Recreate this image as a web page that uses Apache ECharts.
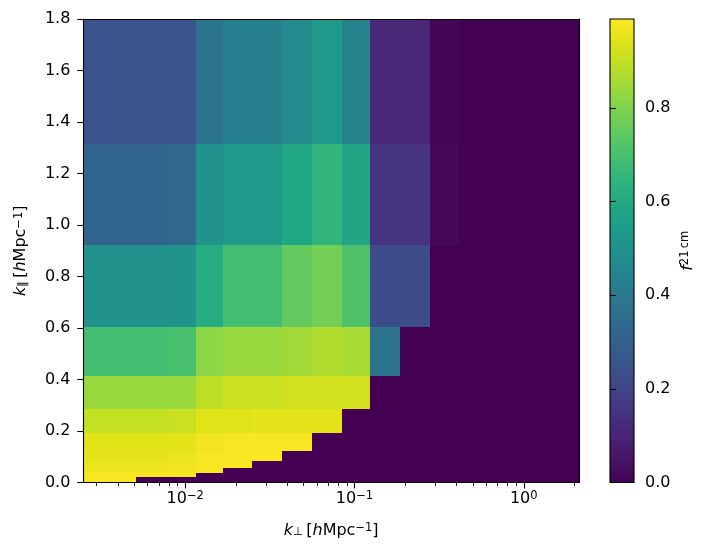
<!DOCTYPE html>
<html>
<head>
<meta charset="utf-8">
<script src="https://cdn.jsdelivr.net/npm/echarts@6/dist/echarts.min.js"></script>
<style>html,body{margin:0;padding:0;background:#fff}#c{width:710px;height:554px}</style>
</head>
<body>
<div id="c"></div>
<script>
// ---- data ----
const kperpEdges = [0.0025, 0.0051, 0.0080, 0.0115, 0.0167, 0.0248, 0.0371, 0.0561, 0.0839, 0.1237, 0.1866, 0.280, 0.416, 0.63, 0.95, 1.42, 2.12];
const kparEdges = [0, 0.02, 0.037, 0.056, 0.085, 0.124, 0.191, 0.284, 0.414, 0.605, 0.923, 1.315, 1.8];
// f21cm, one row per k_par bin (bottom to top), one value per k_perp bin
const row0  = [0.98,0,0,0,0,0,0,0,0,0,0,0,0,0,0,0];
const row1  = [0.98,0.98,0.98,0,0,0,0,0,0,0,0,0,0,0,0,0];
const row2  = [0.97,0.97,0.97,0.99,0,0,0,0,0,0,0,0,0,0,0,0];
const row3  = [0.96,0.96,0.97,0.98,0.99,0,0,0,0,0,0,0,0,0,0,0];
const row4  = [0.95,0.95,0.96,0.98,0.98,0.99,0,0,0,0,0,0,0,0,0,0];
const row5  = [0.94,0.94,0.95,0.97,0.98,0.98,0.98,0,0,0,0,0,0,0,0,0];
const row6  = [0.90,0.90,0.91,0.94,0.94,0.95,0.95,0.95,0,0,0,0,0,0,0,0];
const row7  = [0.84,0.84,0.84,0.89,0.91,0.91,0.92,0.92,0.92,0,0,0,0,0,0,0];
const row8  = [0.69,0.69,0.70,0.82,0.84,0.84,0.85,0.87,0.86,0.38,0,0,0,0,0,0];
const row9  = [0.50,0.50,0.51,0.61,0.69,0.69,0.75,0.78,0.71,0.23,0.23,0,0,0,0,0];
const row10 = [0.32,0.32,0.33,0.50,0.53,0.53,0.59,0.65,0.58,0.15,0.15,0.02,0,0,0,0];
const row11 = [0.25,0.25,0.25,0.375,0.43,0.43,0.47,0.53,0.44,0.11,0.11,0.015,0,0,0,0];
const f21cm = [row0,row1,row2,row3,row4,row5,row6,row7,row8,row9,row10,row11];
const colorMin = 0, colorMax = 0.99;
const xMajorTicks = [0.01, 0.1, 1];
const xMinorTicks = [0.003,0.004,0.005,0.006,0.007,0.008,0.009,0.02,0.03,0.04,0.05,0.06,0.07,0.08,0.09,0.2,0.3,0.4,0.5,0.6,0.7,0.8,0.9,2];
const cbarTicks = [0, 0.2, 0.4, 0.6, 0.8];

const viridis = ['#440154','#471365','#482475','#463480','#414487','#3b528b','#355f8d','#2f6c8e','#2a788e','#25848e','#21918c','#1e9c89','#22a884','#2fb47c','#44bf70','#5ec962','#7ad151','#9bd93c','#bddf26','#dfe318','#fde725'];

const cells = [];
for (let i = 0; i < f21cm.length; i++) {
  for (let j = 0; j < f21cm[i].length; j++) {
    cells.push([kperpEdges[j], kperpEdges[j+1], kparEdges[i], kparEdges[i+1], f21cm[i][j]]);
  }
}

const FONT = 'DejaVu Sans';
const FS = 16;
const mathRich = {
  i: {fontFamily: FONT, fontStyle: 'italic', fontSize: FS, lineHeight: FS, padding: [5,0,5,0], color:'#000'},
  n: {fontFamily: FONT, fontSize: FS, lineHeight: FS, padding: [5,0,5,0], color:'#000'},
  sub: {fontFamily: FONT, fontSize: 11.5, lineHeight: 11, verticalAlign: 'bottom', color:'#000'},
  sup: {fontFamily: FONT, fontSize: 11.5, lineHeight: 11, verticalAlign: 'top', color:'#000'},
  supi: {fontFamily: FONT, fontSize: 11.5, lineHeight: 11, verticalAlign: 'top', color:'#000'}
};
const tickRich = {
  b: {fontFamily: FONT, fontSize: FS, lineHeight: FS, padding: [3,0,0,0], verticalAlign: 'bottom', color:'#000'},
  s: {fontFamily: FONT, fontSize: 11.5, lineHeight: 11, verticalAlign: 'top', color:'#000'}
};

const chart = echarts.init(document.getElementById('c'), null, {renderer: 'canvas'});
const axisLineStyle = {color: '#000', width: 1.1};

chart.setOption({
  animation: false,
  backgroundColor: '#fff',
  textStyle: {fontFamily: FONT},
  grid: [
    {left: 82, top: 19, width: 497, height: 463.5, containLabel: false},
    {left: 610, top: 19, width: 24, height: 463.5, containLabel: false}
  ],
  xAxis: [
    {
      gridIndex: 0, type: 'log', logBase: 10, min: kperpEdges[0], max: kperpEdges[kperpEdges.length-1],
      position: 'bottom', z: 10,
      axisLine: {show: true, lineStyle: axisLineStyle},
      axisTick: {show: true, inside: false, length: 6, lineStyle: {color:'#000', width: 1.1}, customValues: xMajorTicks},
      axisLabel: {
        show: true, margin: 8, customValues: xMajorTicks,
        formatter: function (v) {
          const e = Math.round(Math.log10(v));
          return '{b|10}{s|' + (e < 0 ? '\u2212' + (-e) : e) + '}';
        },
        rich: tickRich
      },
      splitLine: {show: false},
      name: '{i|k}{sub|\u22a5}{n|\u2009[}{i|h}{n|Mpc}{sup|\u22121}{n|]}',
      nameLocation: 'middle', nameGap: 40,
      nameTextStyle: {rich: mathRich}
    },
    {
      gridIndex: 0, type: 'log', logBase: 10, min: kperpEdges[0], max: kperpEdges[kperpEdges.length-1],
      position: 'bottom', z: 10,
      axisLine: {show: false},
      axisTick: {show: true, inside: false, length: 3.5, lineStyle: {color:'#000', width: 0.9}, customValues: xMinorTicks},
      axisLabel: {show: false},
      splitLine: {show: false}
    },
    {
      gridIndex: 0, type: 'log', logBase: 10, min: kperpEdges[0], max: kperpEdges[kperpEdges.length-1],
      position: 'top', z: 10,
      axisLine: {show: true, lineStyle: axisLineStyle},
      axisTick: {show: false}, axisLabel: {show: false}, splitLine: {show: false}
    },
    {
      gridIndex: 1, type: 'value', min: 0, max: 1, show: false
    }
  ],
  yAxis: [
    {
      gridIndex: 0, type: 'value', min: 0, max: 1.8, interval: 0.2, position: 'left', z: 10,
      axisLine: {show: true, lineStyle: axisLineStyle},
      axisTick: {show: true, inside: false, length: 6, lineStyle: {color:'#000', width: 1.1}},
      axisLabel: {show: true, margin: 13, fontFamily: FONT, fontSize: FS, color: '#000', formatter: v => v.toFixed(1)},
      splitLine: {show: false},
      name: '{i|k}{sub|\u2225}{n|\u2009[}{i|h}{n|Mpc}{sup|\u22121}{n|]}',
      nameLocation: 'middle', nameGap: 48,
      nameTextStyle: {rich: mathRich}
    },
    {
      gridIndex: 0, type: 'value', min: 0, max: 1.8, position: 'right', z: 10,
      axisLine: {show: true, lineStyle: axisLineStyle},
      axisTick: {show: false}, axisLabel: {show: false}, splitLine: {show: false}
    },
    {
      gridIndex: 1, type: 'value', min: colorMin, max: colorMax, interval: 0.2, position: 'right', z: 10,
      axisLine: {show: false},
      axisTick: {show: true, inside: false, length: 6, lineStyle: {color:'#000', width: 1.1}, customValues: cbarTicks},
      axisLabel: {show: true, margin: 11, fontFamily: FONT, fontSize: FS, color: '#000', customValues: cbarTicks, formatter: v => v.toFixed(1)},
      splitLine: {show: false},
      name: '{i|f}{supi|21\u2009cm}',
      nameLocation: 'middle', nameGap: 45, nameRotate: 90,
      nameTextStyle: {rich: mathRich}
    }
  ],
  visualMap: [{
    show: false, type: 'continuous', min: colorMin, max: colorMax, dimension: 4, seriesIndex: 0,
    inRange: {color: viridis}
  }],
  series: [
    {
      type: 'custom', xAxisIndex: 0, yAxisIndex: 0, clip: true,
      encode: {x: [0, 1], y: [2, 3]},
      data: cells,
      renderItem: function (params, api) {
        const p0 = api.coord([api.value(0), api.value(3)]);
        const p1 = api.coord([api.value(1), api.value(2)]);
        const x0 = Math.round(p0[0]), x1 = Math.round(p1[0]);
        const y0 = Math.round(p0[1]), y1 = Math.round(p1[1]);
        return {
          type: 'rect',
          shape: {x: x0, y: y0, width: x1 - x0, height: y1 - y0},
          style: {fill: api.visual('color')}
        };
      }
    },
    {
      type: 'custom', xAxisIndex: 3, yAxisIndex: 2,
      data: [[0, 1, colorMin, colorMax]],
      encode: {x: [0, 1], y: [2, 3]},
      renderItem: function (params, api) {
        const p0 = api.coord([api.value(0), api.value(3)]);
        const p1 = api.coord([api.value(1), api.value(2)]);
        const stops = viridis.map((c, k) => ({offset: k / (viridis.length - 1), color: c}));
        return {
          type: 'rect',
          shape: {x: p0[0], y: p0[1], width: p1[0] - p0[0], height: p1[1] - p0[1]},
          style: {fill: new echarts.graphic.LinearGradient(0, 1, 0, 0, stops), stroke: '#000', lineWidth: 1.1}
        };
      }
    }
  ]
});
</script>
</body>
</html>
